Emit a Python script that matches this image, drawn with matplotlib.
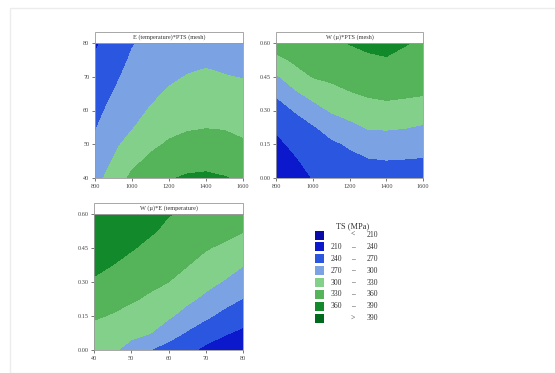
import numpy as np
import matplotlib
matplotlib.use("Agg")
import matplotlib.pyplot as plt
from matplotlib.patches import Rectangle

plt.rcParams['font.family'] = ['Liberation Serif', 'DejaVu Serif']

# contour levels and colours (TS, MPa)
levels = [210, 240, 270, 300, 330, 360, 390]
colors = ['#0a0aa8', '#0c18cc', '#2a56e0', '#7ba2e2',
          '#82d08a', '#55b35a', '#12892a', '#006a1c']
legend_title = "TS (MPa)"

# grid nodes
pts = [800, 900, 1000, 1100, 1200, 1300, 1400, 1500, 1600]
temp = [40, 45, 50, 55, 60, 65, 70, 75, 80]
w = [0.0, 0.075, 0.15, 0.225, 0.30, 0.375, 0.45, 0.525, 0.60]

pts_ticks = [800, 1000, 1200, 1400, 1600]
temp_ticks = [40, 50, 60, 70, 80]
w_ticks = [0.00, 0.15, 0.30, 0.45, 0.60]

# panel 1: TS over PTS (columns) and temperature (rows)
ts_temp_pts = [
    [289, 313, 336, 348, 358, 363, 364, 361, 357],
    [282, 302, 323, 336, 346, 351, 353, 351, 345],
    [274, 294, 310, 324, 333, 339, 341, 339, 333],
    [268, 286, 298, 313, 323, 327, 329, 328, 324],
    [261, 279, 292, 302, 313, 319, 321, 319, 315],
    [255, 271, 286, 295, 303, 310, 312, 310, 307],
    [249, 264, 280, 289, 296, 301, 304, 301, 299],
    [243, 257, 274, 283, 289, 294, 296, 294, 292],
    [236, 251, 268, 277, 283, 287, 289, 288, 285],
]

# panel 2: TS over PTS (columns) and W (rows)
ts_w_pts = [
    [212, 227, 241, 248, 252, 256, 258, 257, 255],
    [222, 236, 250, 257, 262, 267, 269, 268, 267],
    [233, 246, 259, 265, 273, 283, 285, 284, 281],
    [244, 258, 267, 281, 292, 302, 303, 301, 297],
    [258, 271, 287, 303, 311, 319, 321, 319, 315],
    [273, 294, 310, 321, 328, 333, 336, 334, 332],
    [296, 316, 331, 335, 340, 345, 347, 343, 340],
    [321, 335, 340, 345, 350, 356, 358, 352, 348],
    [345, 347, 350, 355, 361, 365, 368, 362, 356],
]

# panel 3: TS over temperature (columns) and W (rows)
ts_w_temp = [
    [310, 305, 288, 270, 258, 246, 234, 222, 212],
    [321, 316, 308, 301, 283, 267, 253, 243, 234],
    [333, 328, 321, 313, 304, 289, 275, 262, 252],
    [345, 339, 333, 326, 317, 306, 294, 280, 269],
    [357, 349, 343, 336, 330, 319, 308, 298, 285],
    [366, 360, 352, 345, 338, 331, 320, 312, 301],
    [373, 368, 362, 354, 346, 340, 332, 325, 316],
    [380, 375, 369, 363, 355, 348, 344, 338, 331],
    [387, 383, 377, 370, 361, 357, 355, 350, 346],
]

titles = ["E (temperature)*PTS (mesh)", "W (\u00b5)*PTS (mesh)",
          "W (\u00b5)*E (temperature)"]

fig = plt.figure(figsize=(5.55, 3.73), dpi=100)
fig.patches.append(Rectangle((10 / 555, 0), 1, 1 - 8 / 373, transform=fig.transFigure,
                             fill=False, edgecolor='#ececec', lw=1.0))

ax1 = fig.add_axes([95 / 555, 1 - 178 / 373, 148 / 555, 135 / 373])
ax2 = fig.add_axes([276 / 555, 1 - 178 / 373, 147 / 555, 135 / 373])
ax3 = fig.add_axes([94 / 555, 1 - 350 / 373, 149 / 555, 136 / 373])

bounds = [0] + levels + [1000]
panels = [
    (ax1, pts, temp, ts_temp_pts, pts_ticks, temp_ticks, "{:.0f}"),
    (ax2, pts, w, ts_w_pts, pts_ticks, w_ticks, "{:.2f}"),
    (ax3, temp, w, ts_w_temp, temp_ticks, w_ticks, "{:.2f}"),
]

for (ax, xs, ys, zs, xt, yt, yfmt), title in zip(panels, titles):
    ax.contourf(xs, ys, np.array(zs), levels=bounds, colors=colors)
    ax.set_xlim(xs[0], xs[-1])
    ax.set_ylim(ys[0], ys[-1])
    ax.set_xticks(xt)
    ax.set_yticks(yt)
    ax.set_yticklabels([yfmt.format(v) for v in yt])
    ax.tick_params(labelsize=4.5, length=2, width=0.5, pad=2, colors='#444444')
    for s in ax.spines.values():
        s.set_color('#999999')
        s.set_linewidth(0.6)
    # title box above the plot
    h = 11 / 135
    ax.add_patch(Rectangle((0, 1), 1, h, transform=ax.transAxes, clip_on=False,
                           facecolor='white', edgecolor='#999999', lw=0.6))
    ax.text(0.5, 1 + h / 2, title, transform=ax.transAxes, ha='center', va='center',
            fontsize=4.5, color='#333333')

# legend drawn by hand
fig.text(353 / 555, 1 - 226 / 373, legend_title, ha='center', va='center',
         fontsize=6, color='#333333')
for i, c in enumerate(colors):
    yc = 235 + i * 11.9
    fig.patches.append(Rectangle((315 / 555, 1 - (yc + 4.5) / 373), 9 / 555, 9 / 373,
                                 transform=fig.transFigure, facecolor=c, edgecolor='none'))
    if i == 0:
        mid, lo, hi = "<", "", str(levels[0])
    elif i == len(colors) - 1:
        mid, lo, hi = ">", "", str(levels[-1])
    else:
        mid, lo, hi = "\u2013", str(levels[i - 1]), str(levels[i])
    y = 1 - yc / 373
    fig.text(342 / 555, y, lo, ha='right', va='center', fontsize=5.5, color='#333333')
    fig.text(353 / 555, y, mid, ha='center', va='center', fontsize=5.5, color='#333333')
    fig.text(367 / 555, y, hi, ha='left', va='center', fontsize=5.5, color='#333333')

fig.savefig("out.png", dpi=100)
